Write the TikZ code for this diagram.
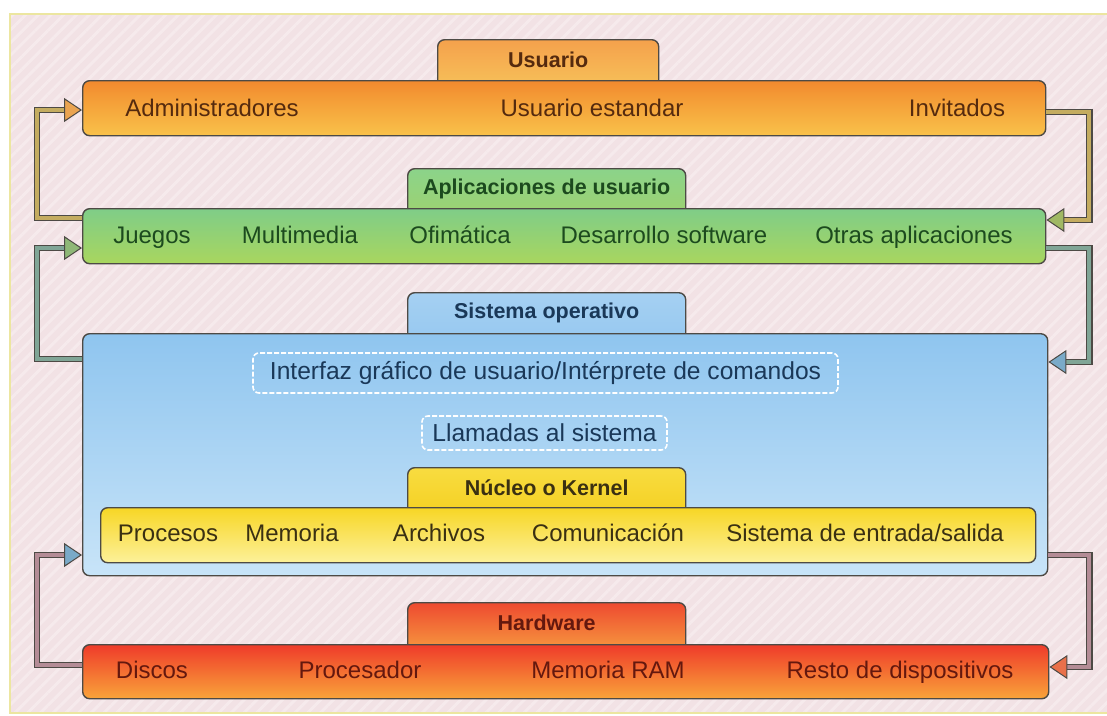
\documentclass[tikz,border=0pt]{standalone}
\usepackage{fontspec}
\setmainfont{Liberation Sans}
\usetikzlibrary{arrows.meta,patterns.meta,calc}
\definecolor{edge}{RGB}{77,74,69}
\definecolor{bgpink}{RGB}{242,226,229}
\definecolor{bgstripe}{RGB}{246,234,236}
\definecolor{frame}{RGB}{236,230,160}
\definecolor{oTop}{RGB}{242,138,46}\definecolor{oBot}{RGB}{249,194,74}
\definecolor{otTop}{RGB}{245,161,76}\definecolor{otBot}{RGB}{247,195,90}
\definecolor{gTop}{RGB}{127,205,136}\definecolor{gBot}{RGB}{169,214,94}
\definecolor{gtTop}{RGB}{139,211,138}\definecolor{gtBot}{RGB}{159,210,110}
\definecolor{bTop}{RGB}{143,197,239}\definecolor{bBot}{RGB}{200,228,248}
\definecolor{btTop}{RGB}{165,208,242}\definecolor{btBot}{RGB}{150,200,240}
\definecolor{yTop}{RGB}{247,214,37}\definecolor{yBot}{RGB}{253,241,154}
\definecolor{ytTop}{RGB}{248,220,64}\definecolor{ytBot}{RGB}{245,208,32}
\definecolor{hTop}{RGB}{239,59,42}\definecolor{hBot}{RGB}{249,164,58}
\definecolor{htTop}{RGB}{238,74,48}\definecolor{htBot}{RGB}{247,160,64}
\definecolor{oText}{RGB}{85,42,14}
\definecolor{gText}{RGB}{28,74,30}
\definecolor{bText}{RGB}{26,56,88}
\definecolor{yText}{RGB}{58,48,18}
\definecolor{hText}{RGB}{100,24,14}
\definecolor{cOG}{RGB}{196,172,96}
\definecolor{cGB}{RGB}{128,165,150}
\definecolor{cBH}{RGB}{180,140,150}
\definecolor{tipO}{RGB}{234,164,80}
\definecolor{tipG}{RGB}{160,184,100}
\definecolor{tipGb}{RGB}{143,184,119}
\definecolor{tipB}{RGB}{122,170,200}
\definecolor{tipH}{RGB}{233,112,74}
\newcommand\myconn[3]{%
  \draw[line width=6.5pt, edge, shorten >=12pt] #3;
  \draw[line width=4pt, #1, -{Triangle[length=18pt,width=24pt,fill=#2,color=edge,line width=1pt]}] #3;}
\begin{document}
\begin{tikzpicture}[x=1pt,y=-1pt,
  bar/.style={draw=edge, line width=1.4pt, rounded corners=7pt, inner sep=0pt, anchor=north west},
  tab/.style={draw=edge, line width=1.4pt, rounded corners=7pt, inner sep=0pt, anchor=north west},
  txt/.style={font=\fontsize{24}{28}\selectfont, inner sep=0pt},
  title/.style={font=\bfseries\fontsize{21.5}{26}\selectfont, inner sep=0pt},
  dashbox/.style={draw=white, line width=1.6pt, dash pattern=on 5pt off 2pt, rounded corners=6pt, inner sep=0pt, text=bText, font=\fontsize{24.6}{28}\selectfont}
]
\useasboundingbox (0,0) rectangle (1107,715);
% background
\fill[white] (0,0) rectangle (1107,715);
\fill[bgpink] (10,14) rectangle (1112,713);
\fill[pattern={Lines[angle=45,distance=9pt,line width=3pt]}, pattern color=bgstripe] (10,14) rectangle (1112,713);
\draw[frame, line width=1.5pt] (1112,14) -- (10,14) -- (10,713) -- (1112,713);

% Usuario
\node[tab, top color=otTop, bottom color=otBot, minimum width=221pt, minimum height=51pt] (ut) at (437,39) {};
\node[bar, top color=oTop, bottom color=oBot, minimum width=963pt, minimum height=55pt] (o) at (82,80) {};
\node[title, text=oText] (utt) at ([yshift=-21pt]ut.north) {Usuario};
\node[txt, text=oText, anchor=base] (o1) at (212,116) {Administradores};
\node[txt, text=oText, anchor=base] (o2) at (592,116) {Usuario estandar};
\node[txt, text=oText, anchor=base] (o3) at (957,116) {Invitados};

% Aplicaciones
\node[tab, top color=gtTop, bottom color=gtBot, minimum width=278pt, minimum height=50pt] (gt) at (407,168) {};
\node[bar, top color=gTop, bottom color=gBot, minimum width=963pt, minimum height=55pt] (g) at (82,208) {};
\node[title, text=gText] (gtt) at ([yshift=-21pt]gt.north) {Aplicaciones de usuario};
\node[txt, text=gText, anchor=base] (g1) at (152,243) {Juegos};
\node[txt, text=gText, anchor=base] (g2) at (300,243) {Multimedia};
\node[txt, text=gText, anchor=base] (g3) at (460,243) {Ofimática};
\node[txt, text=gText, anchor=base] (g4) at (664,243) {Desarrollo software};
\node[txt, text=gText, anchor=base] (g5) at (914,243) {Otras aplicaciones};

% Sistema operativo
\node[tab, top color=btTop, bottom color=btBot, minimum width=278pt, minimum height=51pt] (bt) at (407,292) {};
\node[bar, top color=bTop, bottom color=bBot, minimum width=965pt, minimum height=242pt] (b) at (82,333) {};
\node[title, text=bText] (btt) at ([yshift=-21pt]bt.north) {Sistema operativo};
\node[dashbox, minimum width=585pt, minimum height=40pt] (if) at (545.5,373) {Interfaz gráfico de usuario/Intérprete de comandos};
\node[dashbox, minimum width=245pt, minimum height=34pt] (ll) at (544.5,433) {Llamadas al sistema};

% Nucleo
\node[tab, top color=ytTop, bottom color=ytBot, minimum width=278pt, minimum height=50pt] (yt) at (407,467) {};
\node[bar, top color=yTop, bottom color=yBot, minimum width=935pt, minimum height=55pt] (y) at (100,507) {};
\node[title, text=yText] (ytt) at ([yshift=-21pt]yt.north) {Núcleo o Kernel};
\node[txt, text=yText, anchor=base] (y1) at (168,541) {Procesos};
\node[txt, text=yText, anchor=base] (y2) at (292,541) {Memoria};
\node[txt, text=yText, anchor=base] (y3) at (439,541) {Archivos};
\node[txt, text=yText, anchor=base] (y4) at (608,541) {Comunicación};
\node[txt, text=yText, anchor=base] (y5) at (865,541) {Sistema de entrada/salida};

% Hardware
\node[tab, top color=htTop, bottom color=htBot, minimum width=278pt, minimum height=52pt] (ht) at (407,602) {};
\node[bar, top color=hTop, bottom color=hBot, minimum width=966pt, minimum height=54pt] (h) at (82,644) {};
\node[title, text=hText] (htt) at ([yshift=-21pt]ht.north) {Hardware};
\node[txt, text=hText, anchor=base] (h1) at (152,678) {Discos};
\node[txt, text=hText, anchor=base] (h2) at (360,678) {Procesador};
\node[txt, text=hText, anchor=base] (h3) at (608,678) {Memoria RAM};
\node[txt, text=hText, anchor=base] (h4) at (900,678) {Resto de dispositivos};

% connectors
\myconn{cOG}{tipO}{([yshift=-10pt]g.north west) -- ++(-45,0) |- ([yshift=-30pt]o.north west)}
\myconn{cOG}{tipG}{([yshift=-32pt]o.north east) -- ++(43,0) |- ([yshift=-12pt]g.north east)}
\myconn{cGB}{tipGb}{([yshift=-26pt]b.north west) -- ++(-45,0) |- ([yshift=-40pt]g.north west)}
\myconn{cGB}{tipB}{([yshift=-40pt]g.north east) -- ++(43,0) |- ([yshift=-29pt]b.north east)}
\myconn{cBH}{tipB}{([yshift=-21pt]h.north west) -- ++(-45,0) |- ([yshift=-222pt]b.north west)}
\myconn{cBH}{tipH}{([yshift=-222pt]b.north east) -- ++(41,0) |- ([yshift=-23pt]h.north east)}
\end{tikzpicture}
\end{document}
